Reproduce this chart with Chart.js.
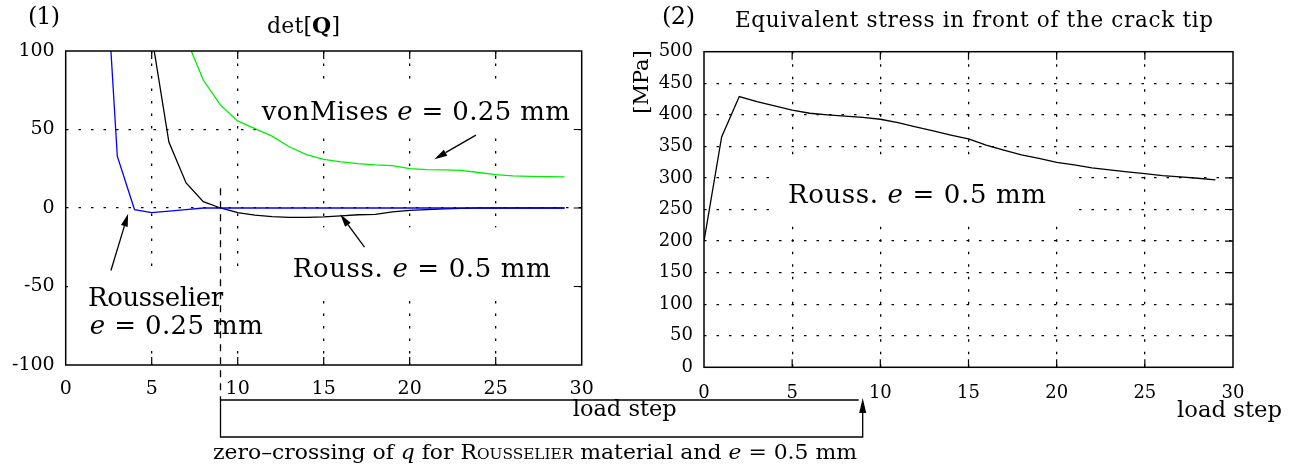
<!DOCTYPE html>
<html>
<head>
<meta charset="utf-8">
<script src="https://cdn.jsdelivr.net/npm/chart.js@4.4.1/dist/chart.umd.min.js"></script>
<style>
  html, body { margin: 0; padding: 0; background: #fff; }
  #wrap { position: relative; width: 1291px; height: 470px; overflow: hidden; }
  #cL { position: absolute; left: 0; top: 0; }
  #cR { position: absolute; left: 620px; top: 0; }
  #ov { position: absolute; left: 0; top: 0; }
</style>
</head>
<body>
<div id="wrap">
  <canvas id="cR" width="671" height="470"></canvas>
  <canvas id="cL" width="640" height="470"></canvas>
  <svg id="ov" width="1291" height="470" xmlns="http://www.w3.org/2000/svg"></svg>
</div>
<script>
// Daten (gelesen aus dem Bild)
const loadSteps = [0, 1, 2, 3, 4, 5, 6, 7, 8, 9, 10, 11, 12, 13, 14, 15, 16, 17, 18, 19, 20, 21, 22, 23, 24, 25, 26, 27, 28, 29];
const stepTicks = [0, 5, 10, 15, 20, 25, 30];
const detTicks = [-100, -50, 0, 50, 100];
const stressTicks = [0, 50, 100, 150, 200, 250, 300, 350, 400, 450, 500];

// det[Q]
const detRousselier025 = [null, null, 214, 33, -1, -3, -2, -1, 0, 0, 0, 0, 0, 0, 0, 0, 0, 0, 0, 0, 0, 0, 0, 0, 0, 0, 0, 0, 0, 0];
const detRouss05 = [null, null, null, null, null, 110, 42, 16, 4, 0, -3, -4.5, -5.5, -6, -6, -5.7, -5, -4.3, -4, -2.5, -1.5, -1, -0.5, -0.2, 0, 0, 0, 0, 0, 0];
const detVonMises025 = [null, null, null, null, null, null, null, 108, 81.5, 65.5, 55.5, 50.6, 45.8, 39, 34, 30.9, 29.4, 28.3, 27.5, 27, 25.1, 24.5, 24.3, 24, 22.6, 21.3, 20.4, 20.2, 20, 19.8];

// Vergleichsspannung vor der Rissspitze [MPa]
const stressRouss05 = [200, 365, 429, 421, 414, 407.6, 402.5, 400, 398, 396, 393, 387.6, 381, 374.5, 368, 361.8, 352, 344, 336.5, 331, 324.5, 320.6, 316, 312.7, 309.5, 306.8, 303.7, 301.6, 299.5, 296.8];

const zeroCrossingStep = 9;

const SERIF = '"DejaVu Serif", "Liberation Serif", serif';

function toPoints(arr) {
  return loadSteps.map((x, i) => ({ x: x, y: arr[i] })).filter(p => p.y !== null);
}

function fontOf(style, size) {
  return (style === 'italic' ? 'italic ' : '') + (style === 'bold' ? 'bold ' : '') + size + 'px ' + SERIF;
}

// Text mit mehreren Teilen, auf Breite gestreckt
function drawRich(ctx, parts, x, y, size, fitWidth) {
  ctx.save();
  ctx.textAlign = 'left';
  ctx.textBaseline = 'alphabetic';
  ctx.fillStyle = '#000';
  let natural = 0, chars = 0;
  parts.forEach(([t, st]) => {
    ctx.font = fontOf(st, size);
    ctx.letterSpacing = '0px';
    natural += ctx.measureText(t).width;
    chars += t.length;
  });
  const sp = fitWidth ? (fitWidth - natural) / Math.max(chars - 1, 1) : 0;
  let cx = x;
  parts.forEach(([t, st]) => {
    ctx.font = fontOf(st, size);
    ctx.letterSpacing = '0px';
    const w = ctx.measureText(t).width;
    ctx.letterSpacing = sp + 'px';
    ctx.fillText(t, cx, y);
    cx += w + sp * t.length;
  });
  ctx.letterSpacing = '0px';
  ctx.restore();
}

function arrow(ctx, x1, y1, x2, y2) {
  const a = Math.atan2(y2 - y1, x2 - x1);
  const len = 13, hw = 3.5;
  ctx.save();
  ctx.strokeStyle = '#000';
  ctx.fillStyle = '#000';
  ctx.lineWidth = 1.3;
  ctx.beginPath();
  ctx.moveTo(x1, y1);
  ctx.lineTo(x2 - len * Math.cos(a), y2 - len * Math.sin(a));
  ctx.stroke();
  ctx.beginPath();
  ctx.moveTo(x2, y2);
  ctx.lineTo(x2 - len * Math.cos(a) + hw * Math.sin(a), y2 - len * Math.sin(a) - hw * Math.cos(a));
  ctx.lineTo(x2 - len * Math.cos(a) - hw * Math.sin(a), y2 - len * Math.sin(a) + hw * Math.cos(a));
  ctx.closePath();
  ctx.fill();
  ctx.restore();
}

// Rahmen + Ticks nach innen
function drawFrame(chart, xMajors, yMajors, tickIn) {
  const { ctx, chartArea: a, scales } = chart;
  ctx.save();
  ctx.strokeStyle = '#000';
  ctx.lineWidth = 1.5;
  ctx.setLineDash([]);
  ctx.strokeRect(a.left, a.top, a.right - a.left, a.bottom - a.top);
  ctx.lineWidth = 1.2;
  ctx.beginPath();
  xMajors.forEach(v => {
    const px = scales.x.getPixelForValue(v);
    ctx.moveTo(px, a.top); ctx.lineTo(px, a.top + tickIn);
    ctx.moveTo(px, a.bottom); ctx.lineTo(px, a.bottom - tickIn);
  });
  yMajors.forEach(v => {
    const py = scales.y.getPixelForValue(v);
    ctx.moveTo(a.right, py); ctx.lineTo(a.right - tickIn, py);
  });
  ctx.stroke();
  ctx.restore();
}

function whiteBox(chart, lab) {
  const { ctx, scales } = chart;
  const px = scales.x.getPixelForValue(lab.at[0]);
  const py = scales.y.getPixelForValue(lab.at[1]);
  ctx.save();
  ctx.fillStyle = '#fff';
  ctx.fillRect(px + lab.box[0], py + lab.box[1], lab.box[2] - lab.box[0], lab.box[3] - lab.box[1]);
  ctx.restore();
}

function labelText(chart, lab) {
  const { ctx, scales } = chart;
  const px = scales.x.getPixelForValue(lab.at[0]);
  const py = scales.y.getPixelForValue(lab.at[1]);
  drawRich(ctx, lab.parts, px, py, lab.size, lab.width);
}

function gridColor(min, max) {
  return c => (c.tick && (c.tick.value === min || c.tick.value === max)) ? 'rgba(0,0,0,0)' : '#000';
}

// Beschriftungen im linken Diagramm
const leftLabels = [
  { at: [11.4, 56], parts: [['vonMises ', ''], ['e', 'italic'], [' = 0.25 mm', '']], size: 26, width: 308, box: [-4, -33, 311, 11] },
  { at: [13.2, -44.2], parts: [['Rouss. ', ''], ['e', 'italic'], [' = 0.5 mm', '']], size: 26, width: 258, box: [-14, -50, 280, 20] },
  { at: [1.3, -62.7], parts: [['Rousselier', '']], size: 26, width: 135, box: [-20, -31, 195, 42] },
  { at: [1.4, -80], parts: [['e', 'italic'], [' = 0.25 mm', '']], size: 26, width: 173, box: [0, 0, 0, 0] }
];
const leftArrows = [
  [[23.85, 46.4], [21.43, 31.1]],
  [[17.37, -24.9], [15.96, -4.0]],
  [[2.63, -39.8], [3.63, -3.6]]
];

const rightLabels = [
  { at: [4.76, 260.3], parts: [['Rouss. ', ''], ['e', 'italic'], [' = 0.5 mm', '']], size: 26, width: 258, box: [-15, -40, 284, 20] }
];

const annoLeft = {
  id: 'annoLeft',
  beforeDatasetsDraw(chart) {
    leftLabels.forEach(l => whiteBox(chart, l));
  },
  afterDatasetsDraw(chart) {
    const { ctx, scales } = chart;
    drawFrame(chart, [5, 10, 15, 20, 25], [-50, 0, 50], 8);
    leftLabels.forEach(l => labelText(chart, l));
    leftArrows.forEach(([t, h]) => arrow(ctx,
      scales.x.getPixelForValue(t[0]), scales.y.getPixelForValue(t[1]),
      scales.x.getPixelForValue(h[0]), scales.y.getPixelForValue(h[1])));
    // Nulldurchgang
    const zx = scales.x.getPixelForValue(zeroCrossingStep);
    ctx.save();
    ctx.strokeStyle = '#000';
    ctx.lineWidth = 1.3;
    ctx.setLineDash([7, 6]);
    ctx.beginPath();
    ctx.moveTo(zx, scales.y.getPixelForValue(12.6));
    ctx.lineTo(zx, 400);
    ctx.stroke();
    ctx.restore();
    drawRich(ctx, [['det[', ''], ['Q', 'bold'], [']', '']], 267, 33, 22, 73);
    drawRich(ctx, [['(1)', '']], 28, 24, 24, 32);
  }
};

const annoRight = {
  id: 'annoRight',
  beforeDatasetsDraw(chart) {
    rightLabels.forEach(l => whiteBox(chart, l));
  },
  afterDatasetsDraw(chart) {
    const { ctx } = chart;
    drawFrame(chart, [5, 10, 15, 20, 25], stressTicks.slice(1, -1), 8);
    rightLabels.forEach(l => labelText(chart, l));
    drawRich(ctx, [['Equivalent stress in front of the crack tip', '']], 115, 27, 21.5, 478);
    drawRich(ctx, [['(2)', '']], 42, 24, 24, 33);
    ctx.save();
    ctx.translate(23, 82);
    ctx.rotate(-Math.PI / 2);
    ctx.font = '21px ' + SERIF;
    ctx.fillStyle = '#000';
    ctx.textAlign = 'center';
    ctx.textBaseline = 'middle';
    ctx.fillText('[MPa]', 0, 0);
    ctx.restore();
  }
};

function stepAxis(fontSize, pad) {
  return {
    type: 'linear', min: 0, max: 30,
    afterBuildTicks: s => { s.ticks = stepTicks.map(v => ({ value: v })); },
    afterFit: s => { s.height = 40; },
    ticks: { font: { family: SERIF, size: fontSize }, color: '#000', padding: pad, maxRotation: 0, autoSkip: false },
    grid: { color: gridColor(0, 30), lineWidth: 1.3, drawTicks: false },
    border: { display: false, dash: [2.5, 10] }
  };
}

const chartL = new Chart(document.getElementById('cL'), {
  type: 'line',
  data: {
    datasets: [
      { label: 'Rousselier e = 0.25 mm', data: toPoints(detRousselier025), borderColor: '#0000ff', borderWidth: 1.3, pointRadius: 0, tension: 0 },
      { label: 'Rouss. e = 0.5 mm', data: toPoints(detRouss05), borderColor: '#000000', borderWidth: 1.3, pointRadius: 0, tension: 0 },
      { label: 'vonMises e = 0.25 mm', data: toPoints(detVonMises025), borderColor: '#00ee00', borderWidth: 1.3, pointRadius: 0, tension: 0 }
    ]
  },
  options: {
    responsive: false, animation: false, events: [],
    layout: { padding: { left: 5.7, right: 58.3, top: 51, bottom: 65 } },
    plugins: { legend: { display: false }, tooltip: { enabled: false } },
    scales: {
      x: stepAxis(19, 13),
      y: {
        min: -100, max: 100,
        afterBuildTicks: s => { s.ticks = detTicks.map(v => ({ value: v })); },
        afterFit: s => { s.width = 60; },
        ticks: { font: { family: SERIF, size: 19 }, color: '#000', padding: 11 },
        grid: { color: gridColor(-100, 100), lineWidth: 1.3, drawTicks: false },
        border: { display: false, dash: [2.5, 10] }
      }
    }
  },
  plugins: [annoLeft]
});

const chartR = new Chart(document.getElementById('cR'), {
  type: 'line',
  data: {
    datasets: [
      { label: 'Rouss. e = 0.5 mm', data: toPoints(stressRouss05), borderColor: '#000000', borderWidth: 1.3, pointRadius: 0, tension: 0 }
    ]
  },
  options: {
    responsive: false, animation: false, events: [],
    layout: { padding: { left: 24, right: 58, top: 51.7, bottom: 62.7 } },
    plugins: { legend: { display: false }, tooltip: { enabled: false } },
    scales: {
      x: stepAxis(18, 15),
      y: {
        min: 0, max: 500,
        afterBuildTicks: s => { s.ticks = stressTicks.map(v => ({ value: v })); },
        afterFit: s => { s.width = 60; },
        ticks: { font: { family: SERIF, size: 18 }, color: '#000', padding: 11 },
        grid: { color: gridColor(0, 500), lineWidth: 1.3, drawTicks: false },
        border: { display: false, dash: [2.5, 10] }
      }
    }
  },
  plugins: [annoRight]
});

// Kasten unten: Nulldurchgang von q
const ov = document.getElementById('ov');
const NS = 'http://www.w3.org/2000/svg';
function svgEl(tag, attrs, text) {
  const e = document.createElementNS(NS, tag);
  Object.entries(attrs).forEach(([k, v]) => e.setAttribute(k, v));
  if (text) e.textContent = text;
  ov.appendChild(e);
  return e;
}
const offR = 620;
const bx1 = chartL.scales.x.getPixelForValue(zeroCrossingStep);
const bx2 = offR + chartR.scales.x.getPixelForValue(zeroCrossingStep);
const bTop = 400, bBot = 437;
svgEl('path', { d: `M${bx2 - 4},${bTop} H${bx1} V${bBot} H${bx2} V${bTop + 10}`, fill: 'none', stroke: '#000', 'stroke-width': 1.3 });
svgEl('path', { d: `M${bx2},${bTop - 2} L${bx2 - 3.5},${bTop + 13} L${bx2 + 3.5},${bTop + 13} Z`, fill: '#000' });

const lx30 = chartL.scales.x.getPixelForValue(30);
const rx30 = offR + chartR.scales.x.getPixelForValue(30);
svgEl('text', { x: lx30 - 9, y: 416, 'font-family': SERIF, 'font-size': 22, textLength: 104, lengthAdjust: 'spacingAndGlyphs' }, 'load step');
svgEl('text', { x: rx30 - 56, y: 417, 'font-family': SERIF, 'font-size': 22, textLength: 105, lengthAdjust: 'spacingAndGlyphs' }, 'load step');

const cap = svgEl('text', { x: 213, y: 459, 'font-family': SERIF, 'font-size': 20, textLength: 644, lengthAdjust: 'spacingAndGlyphs' });
[['zero–crossing of ', {}], ['q', { 'font-style': 'italic' }], [' for ', {}], ['Rousselier', { 'font-variant': 'small-caps' }],
 [' material and ', {}], ['e', { 'font-style': 'italic' }], [' = 0.5 mm', {}]].forEach(([t, a]) => {
  const s = document.createElementNS(NS, 'tspan');
  Object.entries(a).forEach(([k, v]) => s.setAttribute(k, v));
  s.textContent = t;
  cap.appendChild(s);
});
</script>
</body>
</html>
